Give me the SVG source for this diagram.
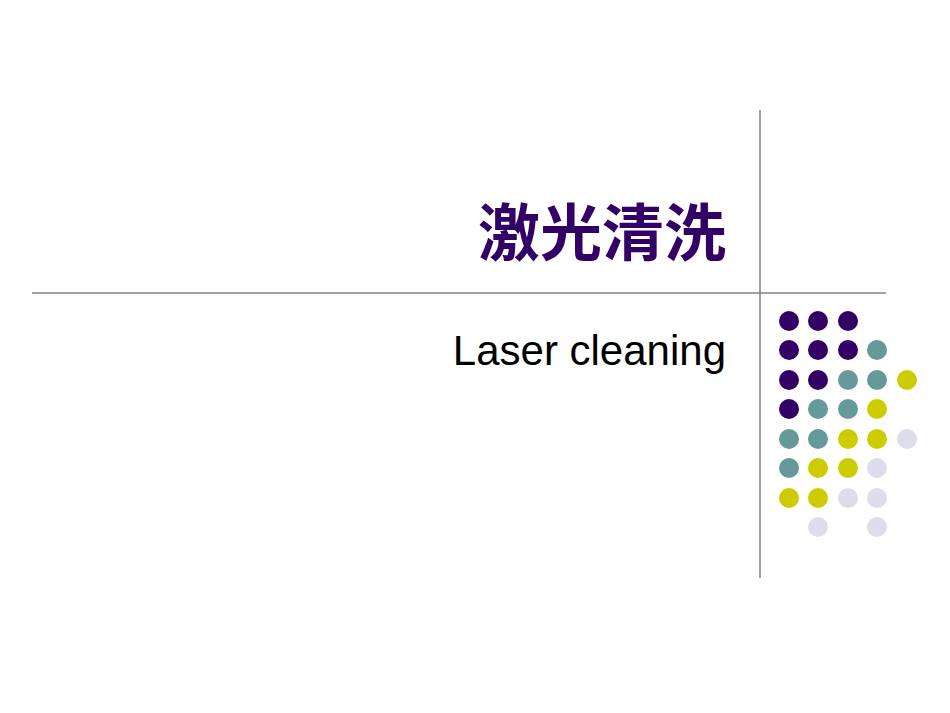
<svg xmlns="http://www.w3.org/2000/svg" width="950" height="713" viewBox="0 0 950 713">
<style>
.p{fill:#330066}.t{fill:#669999}.y{fill:#CCCC00}.l{fill:#DDDDEE}
line{stroke:#808080;stroke-width:1.5}
</style>
<rect width="950" height="713" fill="#fff"/>
<line x1="760" y1="110" x2="760" y2="578"/>
<line x1="32" y1="293" x2="886" y2="293"/>
<text x="726" y="256" text-anchor="end" font-family="Noto Sans CJK SC, sans-serif" font-weight="bold" font-size="62" fill="#330066">激光清洗</text>
<text x="726" y="365" text-anchor="end" font-family="Liberation Sans, Arial, sans-serif" font-size="42" fill="#000">Laser cleaning</text>
<g id="dots">
<circle class="p" cx="789" cy="321" r="10"/><circle class="p" cx="818" cy="321" r="10"/><circle class="p" cx="848" cy="321" r="10"/>
<circle class="p" cx="789" cy="350" r="10"/><circle class="p" cx="818" cy="350" r="10"/><circle class="p" cx="848" cy="350" r="10"/><circle class="t" cx="877" cy="350" r="10"/>
<circle class="p" cx="789" cy="380" r="10"/><circle class="p" cx="818" cy="380" r="10"/><circle class="t" cx="848" cy="380" r="10"/><circle class="t" cx="877" cy="380" r="10"/><circle class="y" cx="907" cy="380" r="10"/>
<circle class="p" cx="789" cy="409" r="10"/><circle class="t" cx="818" cy="409" r="10"/><circle class="t" cx="848" cy="409" r="10"/><circle class="y" cx="877" cy="409" r="10"/>
<circle class="t" cx="789" cy="439" r="10"/><circle class="t" cx="818" cy="439" r="10"/><circle class="y" cx="848" cy="439" r="10"/><circle class="y" cx="877" cy="439" r="10"/><circle class="l" cx="907" cy="439" r="10"/>
<circle class="t" cx="789" cy="468" r="10"/><circle class="y" cx="818" cy="468" r="10"/><circle class="y" cx="848" cy="468" r="10"/><circle class="l" cx="877" cy="468" r="10"/>
<circle class="y" cx="789" cy="498" r="10"/><circle class="y" cx="818" cy="498" r="10"/><circle class="l" cx="848" cy="498" r="10"/><circle class="l" cx="877" cy="498" r="10"/>
<circle class="l" cx="818" cy="527" r="10"/><circle class="l" cx="877" cy="527" r="10"/>
</g>
</svg>
